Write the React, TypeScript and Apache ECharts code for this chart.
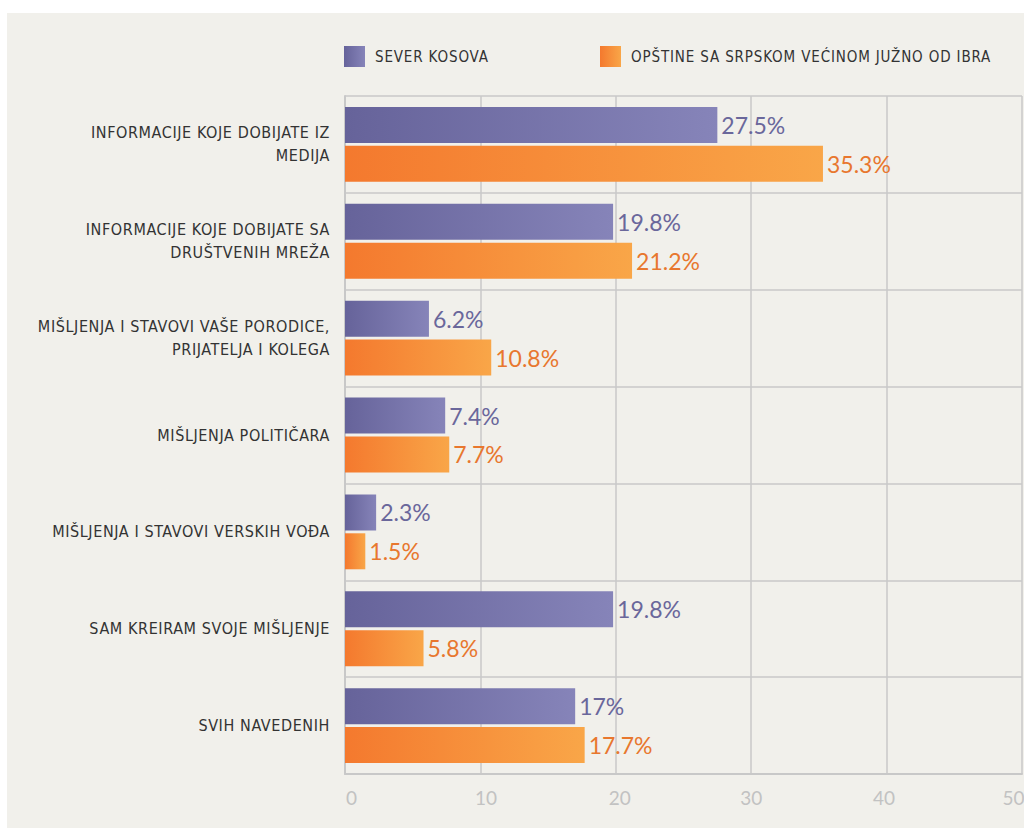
import React, { useEffect, useRef } from "react";
import * as echarts from "echarts";

const categories = [
  "INFORMACIJE KOJE DOBIJATE IZ\nMEDIJA",
  "INFORMACIJE KOJE DOBIJATE SA\nDRUŠTVENIH MREŽA",
  "MIŠLJENJA I STAVOVI VAŠE PORODICE,\nPRIJATELJA I KOLEGA",
  "MIŠLJENJA POLITIČARA",
  "MIŠLJENJA I STAVOVI VERSKIH VOĐA",
  "SAM KREIRAM SVOJE MIŠLJENJE",
  "SVIH NAVEDENIH",
];
const severKosova = [27.5, 19.8, 6.2, 7.4, 2.3, 19.8, 17];
const opstineJug = [35.3, 21.2, 10.8, 7.7, 1.5, 5.8, 17.7];
const seriesNames = ["SEVER KOSOVA", "OPŠTINE SA SRPSKOM VEĆINOM JUŽNO OD IBRA"];
const xMin = 0;
const xMax = 50;
const xInterval = 10;

const NARROW = "'Liberation Sans Narrow', 'DejaVu Sans Condensed', 'Arial Narrow', sans-serif";
const ROUND = "Lato, 'Open Sans', sans-serif";

const css = `
#root text[style*="Narrow"] { letter-spacing: 0.6px; }
#root text[style*="Narrow"][style*="15px"] { letter-spacing: 0.85px; }
`;

// small horizontal nudges of the tick labels (style only)
const tickRich = {
  p0: { padding: [0, 0, 0, 13] },
  p10: { padding: [0, 0, 0, 11] },
  p20: { padding: [0, 0, 0, 8] },
  p30: { padding: [0, 0, 0, 0] },
  p40: { padding: [0, 5, 0, 0] },
  p50: { padding: [0, 17, 0, 0] },
};

export default function App() {
  const ref = useRef<HTMLDivElement>(null);
  useEffect(() => {
    if (!ref.current) return;
    const chart = echarts.init(ref.current, null, { renderer: "svg" });
    const purple = new echarts.graphic.LinearGradient(0, 0, 1, 0, [
      { offset: 0, color: "#66639a" },
      { offset: 1, color: "#8684b9" },
    ]);
    const orange = new echarts.graphic.LinearGradient(0, 0, 1, 0, [
      { offset: 0, color: "#f4792e" },
      { offset: 1, color: "#f9a648" },
    ]);
    const legendText = {
      fontFamily: NARROW,
      fontSize: 15,
      color: "#333333",
      padding: [0, 0, 0, 5],
    };
    chart.setOption({
      animation: false,
      backgroundColor: "transparent",
      legend: [
        {
          data: [seriesNames[0]],
          left: 337,
          top: 33,
          padding: 0,
          itemWidth: 21,
          itemHeight: 21,
          icon: "rect",
          textStyle: legendText,
        },
        {
          data: [seriesNames[1]],
          left: 593,
          top: 33,
          padding: 0,
          itemWidth: 21,
          itemHeight: 21,
          icon: "rect",
          textStyle: legendText,
        },
      ],
      grid: {
        left: 338,
        top: 83,
        right: 2,
        bottom: 54,
        containLabel: false,
        outerBoundsMode: "none",
      },
      xAxis: {
        type: "value",
        min: xMin,
        max: xMax,
        interval: xInterval,
        axisLine: { show: true, lineStyle: { color: "#c8c8c8", width: 2 } },
        axisTick: { show: false },
        axisLabel: {
          color: "#c2c2c2",
          fontFamily: ROUND,
          fontSize: 19,
          margin: 14,
          hideOverlap: false,
          formatter: (v: number) => `{p${v}|${v}}`,
          rich: tickRich,
        },
        splitLine: { show: true, lineStyle: { color: "#c8c8c8", width: 1.5 } },
      },
      yAxis: {
        type: "category",
        inverse: true,
        data: categories,
        axisLine: { show: true, lineStyle: { color: "#c8c8c8", width: 2 } },
        axisTick: { show: false },
        axisLabel: {
          color: "#333333",
          fontFamily: NARROW,
          fontSize: 16,
          lineHeight: 23,
          margin: 15,
          align: "right",
        },
        splitLine: { show: true, lineStyle: { color: "#c8c8c8", width: 1.5 } },
      },
      series: [
        {
          name: seriesNames[0],
          type: "bar",
          data: severKosova,
          barWidth: 36,
          barGap: "8%",
          itemStyle: { color: purple },
          label: {
            show: true,
            position: "right",
            distance: 4,
            formatter: "{c}%",
            color: "#6a679b",
            fontFamily: ROUND,
            fontSize: 23,
          },
        },
        {
          name: seriesNames[1],
          type: "bar",
          data: opstineJug,
          barWidth: 36,
          barGap: "8%",
          itemStyle: { color: orange },
          label: {
            show: true,
            position: "right",
            distance: 4,
            formatter: "{c}%",
            color: "#e8772e",
            fontFamily: ROUND,
            fontSize: 23,
          },
        },
      ],
    });
    return () => chart.dispose();
  }, []);
  return (
    <>
      <style>{css}</style>
      <div
        style={{
          position: "absolute",
          left: 0,
          top: 0,
          width: 1024,
          height: 828,
          background: "#ffffff",
        }}
      >
        <div
          ref={ref}
          style={{
            position: "absolute",
            left: 7,
            top: 13,
            width: 1017,
            height: 815,
            background: "#f1f0eb",
          }}
        />
      </div>
    </>
  );
}
